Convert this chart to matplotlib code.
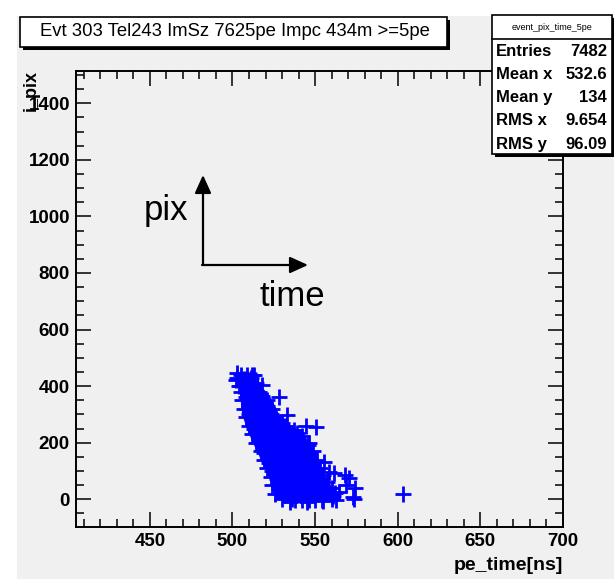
import matplotlib
matplotlib.use('Agg')
import matplotlib.pyplot as plt
from matplotlib.patches import Rectangle, Polygon
from matplotlib.ticker import MultipleLocator

plt.rcParams['font.family'] = ['Liberation Sans', 'DejaVu Sans']

# dense core of the scatter (outline, pe_time vs i_pix)
core_time = [503.0, 505.0, 506.5, 509.5, 513.0, 516.0, 518.5, 521.0, 523.5, 525.0, 526.0,
             530.5, 535.5, 545.5, 554.0, 561.5, 560.0, 556.5, 554.0, 552.0, 549.5,
             546.0, 541.5, 535.0, 527.5, 525.5, 522.0, 516.0, 514.5]
core_pix = [445, 380, 300, 248, 200, 165, 130, 104, 70, 40, 12,
            -5, -10, -10, -5, 10, 40, 70, 98, 130, 165,
            200, 235, 258, 300, 325, 362, 404, 445]

# individual pixels
pts_time = [505, 509, 512, 503, 507, 511, 505, 508, 510, 513, 517, 519, 522, 524, 527,
            528, 532, 536, 538, 542, 546, 550, 554, 560, 558, 554, 551, 549, 546,
            543, 539, 532, 523, 521, 518, 511,
            518, 528, 533, 544.5, 550.8, 545.7, 555.2, 558.4, 561.2, 568.2, 570.2,
            568.6, 574.3, 573.2, 573.5, 562.2, 564.4, 560, 562.6, 603,
            503, 502, 504, 505, 506, 507, 508, 510, 512, 514, 517, 519, 521, 523,
            524, 526, 530, 535,
            545, 555, 561, 560, 557, 555, 553, 551, 549, 546, 542, 537, 530, 526,
            524, 521, 516, 514, 513]
pts_pix = [440, 440, 438, 430, 425, 428, 400, 360, 300, 250, 200, 165, 130, 100, 70,
           40, 15, 0, -2, -2, -2, -2, -2, 10, 40, 70, 100, 130, 165,
           200, 235, 260, 300, 330, 365, 405,
           404, 362, 298, 260, 257, 192, 133, 96, 92, 86, 74,
           51, 39, 9, 2, 21, 26, 2, -2, 20,
           445, 420, 400, 380, 350, 320, 290, 260, 230, 200, 170, 140, 110, 80,
           50, 20, 0, -8,
           -8, -5, 10, 40, 60, 85, 110, 140, 170, 200, 225, 245, 270, 290,
           320, 350, 380, 410, 440]

x_ticks = [450, 500, 550, 600, 650, 700]
y_ticks = [0, 200, 400, 600, 800, 1000, 1200, 1400]

title = 'Evt 303 Tel243 ImSz 7625pe Impc 434m >=5pe'
stat_name = 'event_pix_time_5pe'
stat_labels = ['Entries', 'Mean x', 'Mean y', 'RMS x', 'RMS y']
stat_values = ['7482', '532.6', '134', '9.654', '96.09']

W, H = 614, 579
fig = plt.figure(figsize=(W / 100, H / 100), dpi=100)
fig.patch.set_facecolor('white')


def fx(px):
    return px / W


def fy(py):
    return 1 - py / H


def frect(x0, y0, x1, y1, **kw):
    r = Rectangle((fx(x0), fy(y1)), fx(x1) - fx(x0), fy(y0) - fy(y1),
                  transform=fig.transFigure, **kw)
    fig.patches.append(r)


# grey canvas
frect(17, 16, 614, 579, facecolor='#f0f0f0', edgecolor='none', zorder=-5)

ax = fig.add_axes([fx(75.5), fy(527), fx(563) - fx(75.5), fy(71) - fy(527)])
ax.set_facecolor('#f0f0f0')
ax.set_xlim(405, 700)
ax.set_ylim(-98, 1514)

ax.add_patch(Polygon(list(zip(core_time, core_pix)), closed=True,
                     facecolor='#0000ff', edgecolor='#0000ff', lw=1.5, zorder=2))
ax.plot(pts_time, pts_pix, linestyle='none', marker='+', color='#0000ff',
        markersize=12, markeredgewidth=2, zorder=3)

ax.set_xticks(x_ticks)
ax.set_yticks(y_ticks)
ax.xaxis.set_minor_locator(MultipleLocator(10))
ax.yaxis.set_minor_locator(MultipleLocator(50))
ax.tick_params(which='both', direction='in', top=True, right=True, width=1.1)
ax.tick_params(which='major', length=10.5, labelsize=13.5, pad=4)
ax.tick_params(which='minor', length=5.5)
for lab in ax.get_xticklabels() + ax.get_yticklabels():
    lab.set_fontweight('bold')
for s in ax.spines.values():
    s.set_linewidth(1.4)

fig.text(fx(31), fy(70), 'i_pix', rotation=90, ha='center', va='top',
         fontsize=13, fontweight='bold')
fig.text(fx(563), fy(566), 'pe_time[ns]', ha='right', va='center',
         fontsize=14, fontweight='bold')

# title box with shadow
frect(23, 20, 450, 50, facecolor='black', edgecolor='none', zorder=5)
frect(20, 17, 447, 47, facecolor='white', edgecolor='black', lw=1.2, zorder=6)
fig.text(fx(235), fy(32), title, ha='center', va='center', fontsize=13.3, zorder=7)

# stats box
frect(495, 18, 614, 157, facecolor='black', edgecolor='none', zorder=5)
frect(492, 15, 612, 154, facecolor='white', edgecolor='black', lw=1.2, zorder=6)
fig.add_artist(plt.Line2D([fx(492), fx(612)], [fy(39), fy(39)], color='black', lw=1.2,
                          transform=fig.transFigure, zorder=7))
fig.text(fx(552), fy(27), stat_name, ha='center', va='center', fontsize=6.5, zorder=7)
for i, (lab, val) in enumerate(zip(stat_labels, stat_values)):
    yy = fy(51 + i * 23.3)
    fig.text(fx(496), yy, lab, ha='left', va='center', fontsize=12, fontweight='bold', zorder=7)
    fig.text(fx(607), yy, val, ha='right', va='center', fontsize=12, fontweight='bold', zorder=7)

# direction arrows
arrow_kw = dict(arrowstyle='-|>,head_length=0.55,head_width=0.25', mutation_scale=20,
                lw=1.6, color='black', shrinkA=0, shrinkB=0)
ax.annotate('', xy=(fx(203), fy(175)), xytext=(fx(203), fy(265)),
            xycoords='figure fraction', textcoords='figure fraction', arrowprops=arrow_kw)
ax.annotate('', xy=(fx(308), fy(265)), xytext=(fx(202), fy(265)),
            xycoords='figure fraction', textcoords='figure fraction', arrowprops=arrow_kw)
fig.text(fx(166), fy(220), 'pix', ha='center', va='baseline', fontsize=25)
fig.text(fx(292), fy(306), 'time', ha='center', va='baseline', fontsize=25)

fig.savefig('out.png', dpi=100)
